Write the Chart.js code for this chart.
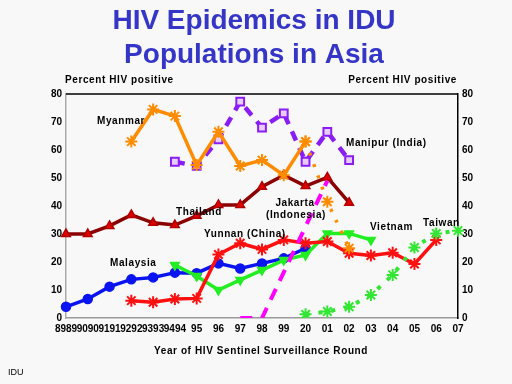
<!DOCTYPE html>
<html>
<head>
<meta charset="utf-8">
<script src="https://cdn.jsdelivr.net/npm/chart.js@4"></script>
<style>
  html, body { margin: 0; padding: 0; background: #f8f8f8; }
  #wrap { width: 512px; height: 384px; }
</style>
</head>
<body>
<div id="wrap"><canvas id="c" width="512" height="384"></canvas></div>
<script>
// 年份標籤 (照原圖的重疊樣子)
const yearLabels = ['8989', '9090', '9191', '9292', '9393', '9494', '95', '96', '97', '98', '99', '20', '01', '02', '03', '04', '05', '06', '07'];

// 各地區數據 (1989 - 2007)
const malaysia = [4.0, 6.8, 11.2, 13.8, 14.5, 16.2, 16.0, 19.5, 17.7, 19.5, 21.3, 24.9, null, null, null, null, null, null, null];
const thailand = [30, 30, 32.9, 36.8, 34, 33.2, 36.5, 40.4, 40.4, 46.9, 51, 47.1, 50.2, 41.2, null, null, null, null, null];
const myanmar = [null, null, null, 63, 74.5, 72.1, 54.6, 66.5, 54.3, 56.4, 51, 63, null, null, null, null, null, null, null];
const myanmarLater = [null, null, null, null, null, null, null, null, null, null, null, 63, 41.5, 24.9, null, null, null, null, null];
const manipur = [null, null, null, null, null, 55.8, 54.3, 63.8, 77.3, 68, 73.1, 55.8, 66.5, 56.4, null, null, null, null, null];
const jakarta = [null, null, null, null, null, null, null, null, 0, 0, null, null, 49, null, null, null, null, null, null];
const yunnan = [null, null, null, 6.2, 5.6, 6.8, 7.0, 22.7, 26.7, 24.5, 27.9, 26.7, 27.3, 23.1, 22.3, 23.3, 19.3, 27.9, null];
const vietnam = [null, null, null, null, null, 18.9, 15, 10, 13.6, 17.1, 20.7, 22.5, 30.2, 30.2, 27.9, null, null, null, null];
const taiwan = [null, null, null, null, null, null, null, null, null, null, null, 1.3, 2.3, 4.0, 8.2, 15.4, 25.2, 30.2, 31.2];

const FONT = "'Liberation Sans', Arial, sans-serif";

// 圖上的文字標註
const annotations = [
    { text: 'Myanmar', x: 97, y: 121, align: 'left' },
    { text: 'Manipur (India)', x: 346, y: 143, align: 'left' },
    { text: 'Thailand', x: 176, y: 212, align: 'left' },
    { text: 'Jakarta', x: 295, y: 203, align: 'center' },
    { text: '(Indonesia)', x: 296, y: 215, align: 'center' },
    { text: 'Yunnan (China)', x: 204, y: 234, align: 'left' },
    { text: 'Malaysia', x: 110, y: 263, align: 'left' },
    { text: 'Vietnam', x: 370, y: 227, align: 'left' },
    { text: 'Taiwan', x: 423, y: 223, align: 'left' },
    { text: 'Percent HIV positive', x: 65, y: 80, align: 'left' },
    { text: 'Percent HIV positive', x: 457, y: 80, align: 'right' },
    { text: 'Year of HIV Sentinel Surveillance Round', x: 261, y: 351, align: 'center' }
];

const textPlugin = {
    id: 'texts',
    afterDraw(chart) {
        const ctx = chart.ctx;
        const area = chart.chartArea;
        ctx.save();
        // 上框線
        ctx.strokeStyle = '#000';
        ctx.lineWidth = 1.5;
        ctx.beginPath();
        ctx.moveTo(area.left, area.top);
        ctx.lineTo(area.right, area.top);
        ctx.stroke();

        // 標題
        ctx.fillStyle = '#3535c8';
        ctx.font = 'bold 28px ' + FONT;
        ctx.textAlign = 'center';
        ctx.textBaseline = 'alphabetic';
        ctx.fillText('HIV Epidemics in IDU', 254, 29);
        ctx.fillText('Populations in Asia', 254, 63);

        ctx.fillStyle = '#000';
        ctx.font = 'bold 10px ' + FONT;
        ctx.textBaseline = 'middle';
        ctx.letterSpacing = '0.6px';
        annotations.forEach(a => {
            ctx.textAlign = a.align;
            ctx.fillText(a.text, a.x, a.y);
        });
        ctx.letterSpacing = '0px';
        ctx.font = '9px ' + FONT;
        ctx.textAlign = 'left';
        ctx.fillText('IDU', 8, 373);
        ctx.restore();
    }
};

function lineSet(label, data, color, extra) {
    return Object.assign({
        label: label,
        data: data,
        borderColor: color,
        backgroundColor: color,
        pointBorderColor: color,
        pointBackgroundColor: color,
        borderWidth: 3.5,
        pointRadius: 4,
        pointBorderWidth: 1.5,
        tension: 0,
        spanGaps: false
    }, extra || {});
}

const datasets = [
    lineSet('Taiwan', taiwan, '#33e633', { borderDash: [4, 9], borderWidth: 4, pointStyle: 'star', pointRadius: 6, pointBorderWidth: 2 }),
    lineSet('Jakarta (Indonesia)', jakarta, '#ff00ff', { borderDash: [12, 9], borderWidth: 4, pointRadius: 0, spanGaps: true }),
    lineSet('Myanmar later', myanmarLater, '#ff8c00', { borderDash: [3, 9], borderWidth: 3.5, pointStyle: 'star', pointRadius: 6, pointBorderWidth: 2 }),
    lineSet('Myanmar', myanmar, '#ff8c00', { pointStyle: 'star', pointRadius: 6, pointBorderWidth: 2 }),
    lineSet('Manipur (India)', manipur, '#8a1cf5', { borderDash: [10, 8], borderWidth: 4.5, pointStyle: 'rect', pointRadius: 5.5, pointBackgroundColor: '#e6ccff', pointBorderWidth: 2 }),
    lineSet('Thailand', thailand, '#8b0000', { pointStyle: 'triangle', pointRadius: 5, pointBackgroundColor: '#e00000', pointBorderColor: '#b00000' }),
    lineSet('Yunnan (China)', yunnan, '#ff1010', { pointStyle: 'star', pointRadius: 6, pointBorderWidth: 2 }),
    lineSet('Vietnam', vietnam, '#22ee22', { pointStyle: 'triangle', rotation: 180, pointRotation: 180, pointRadius: 5 }),
    lineSet('Malaysia', malaysia, '#0a14f0', { pointStyle: 'circle', pointRadius: 4.5 })
];

new Chart(document.getElementById('c'), {
    type: 'line',
    data: { labels: yearLabels, datasets: datasets },
    options: {
        responsive: false,
        animation: false,
        events: [],
        layout: { padding: { left: 0, right: 0, top: 94, bottom: 44 } },
        plugins: {
            legend: { display: false },
            title: { display: false },
            tooltip: { enabled: false }
        },
        scales: {
            x: {
                offset: false,
                grid: { display: false, drawTicks: false },
                border: { color: '#999', width: 1.5 },
                ticks: {
                    color: '#000',
                    font: { family: FONT, size: 10, weight: 'bold' },
                    padding: 5,
                    maxRotation: 0,
                    autoSkip: false
                },
                afterFit(scale) { scale.height = 22; }
            },
            y: {
                position: 'left',
                min: 0,
                max: 80,
                grid: { display: false, drawTicks: false },
                border: { color: '#aaa', width: 1.5 },
                ticks: {
                    stepSize: 10,
                    color: '#000',
                    font: { family: FONT, size: 10, weight: 'bold' },
                    padding: 4
                },
                afterFit(scale) { scale.width = 66; }
            },
            y2: {
                position: 'right',
                min: 0,
                max: 80,
                grid: { display: false, drawTicks: false },
                border: { color: '#000', width: 1.5 },
                ticks: {
                    stepSize: 10,
                    color: '#000',
                    font: { family: FONT, size: 10, weight: 'bold' },
                    padding: 4
                },
                afterFit(scale) { scale.width = 54; }
            }
        }
    },
    plugins: [textPlugin]
});
</script>
</body>
</html>
